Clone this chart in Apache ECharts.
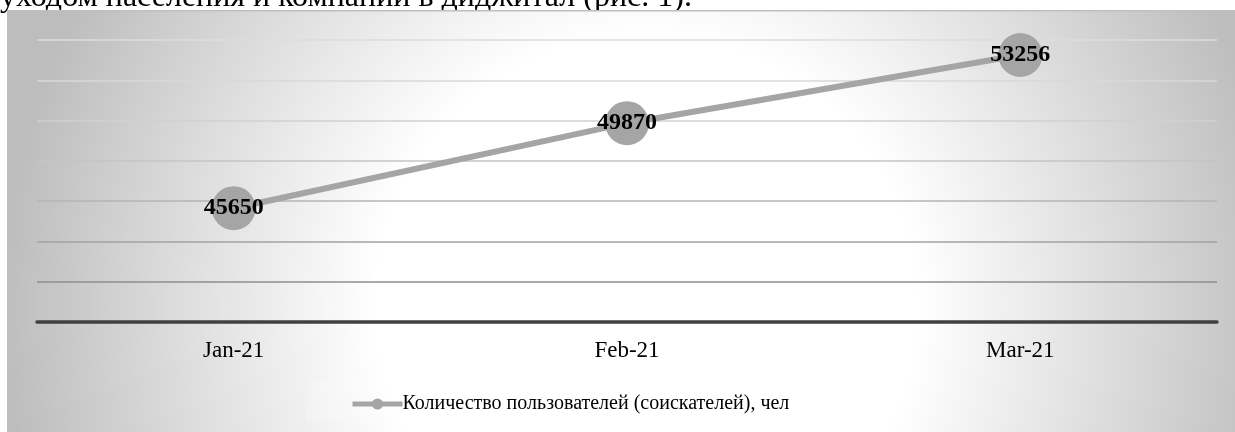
<!DOCTYPE html>
<html>
<head>
<meta charset="utf-8">
<script src="https://cdn.jsdelivr.net/npm/echarts@6/dist/echarts.min.js"></script>
<style>
html,body{margin:0;padding:0;background:#fff;}
#chart{width:1235px;height:432px;}
</style>
</head>
<body>
<div id="chart"></div>
<script>
const categories = ['Jan-21', 'Feb-21', 'Mar-21'];
const seriesName = 'Количество пользователей (соискателей), чел';
const users = [45650, 49870, 53256];
const headingText = 'уходом населения и компаний в диджитал (рис. 1).';

const serif = "'Liberation Serif', 'Times New Roman', serif";
const chart = echarts.init(document.getElementById('chart'), null, {renderer: 'canvas'});

chart.setOption({
  animation: false,
  backgroundColor: '#ffffff',
  graphic: [
    {
      type: 'text', left: 0, top: -18, z: -20,
      style: { text: headingText, font: '32px ' + serif, fill: '#000' }
    },
    {
      type: 'rect', left: 7, top: 10, z: -10,
      shape: { width: 1228, height: 422 },
      style: {
        fill: new echarts.graphic.RadialGradient(0.52, 0.7, 1.52, [
          { offset: 0, color: '#ffffff' },
          { offset: 0.42, color: '#ffffff' },
          { offset: 0.68, color: '#e2e2e2' },
          { offset: 1, color: '#bdbdbd' }
        ]),
        stroke: '#bfbfbf', lineWidth: 1.5
      }
    },
    {
      type: 'rect', left: 307, top: 380, z: -5,
      shape: { width: 583, height: 42 },
      style: { fill: 'rgba(255,255,255,0.2)' }
    }
  ],
  grid: { left: 37, right: 18, top: 40, bottom: 110 },
  legend: {
    left: 350, top: 394, padding: 0,
    itemWidth: 50, itemHeight: 14, itemGap: 0,
    lineStyle: { width: 5 },
    textStyle: { fontFamily: serif, fontSize: 20, color: '#000', padding: [0, 0, 0, -5] },
    data: [seriesName]
  },
  xAxis: {
    type: 'category',
    data: categories,
    boundaryGap: true,
    axisLine: { show: true, lineStyle: { color: '#404040', width: 3.5 } },
    axisTick: { show: false },
    axisLabel: { fontFamily: serif, fontSize: 23, color: '#000', margin: 17 },
    splitLine: { show: false }
  },
  yAxis: {
    type: 'value',
    min: 40000, max: 54000, interval: 2000,
    axisLine: { show: false },
    axisTick: { show: false },
    axisLabel: { show: false },
    splitLine: {
      show: true,
      lineStyle: {
        width: 1.5,
        color: ['#7f7f7f', '#8e8e8e', '#a2a2a2', '#b4b4b4', '#c4c4c4', '#d0d0d0', '#d9d9d9', '#dddddd']
      }
    }
  },
  series: [{
    name: seriesName,
    type: 'line',
    data: users,
    symbol: 'circle',
    symbolSize: 44,
    lineStyle: { color: '#a5a5a5', width: 6 },
    itemStyle: { color: '#a5a5a5' },
    label: {
      show: true, position: 'inside',
      fontFamily: serif, fontSize: 24, fontWeight: 'bold', color: '#000'
    },
    emphasis: { disabled: true }
  }]
});
</script>
</body>
</html>
